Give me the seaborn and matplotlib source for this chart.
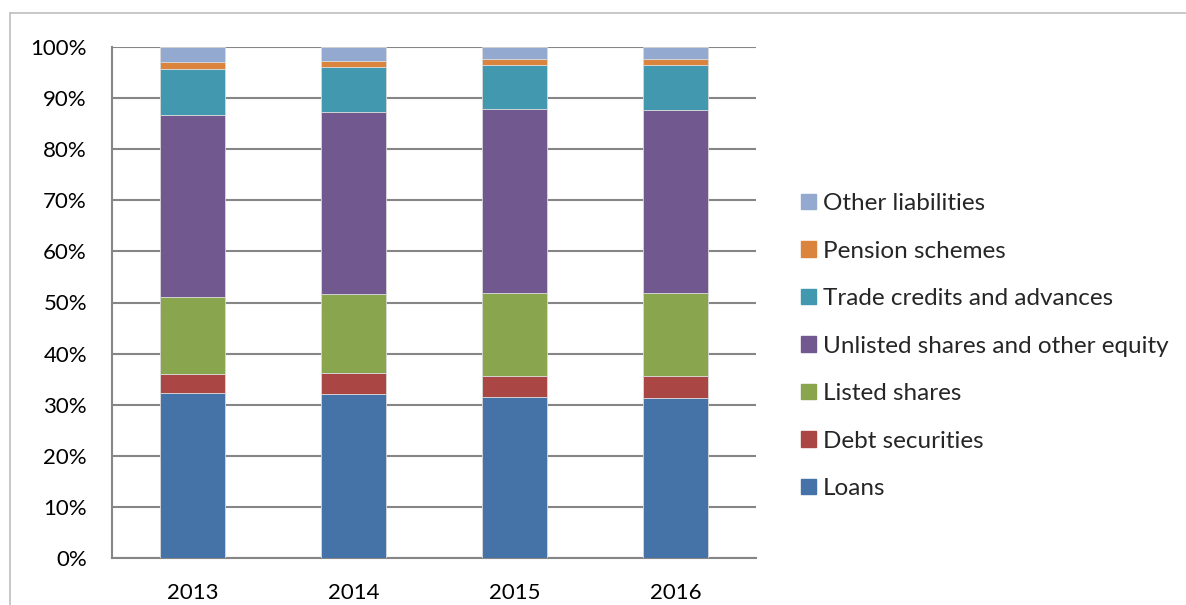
import matplotlib
matplotlib.use("Agg")
import matplotlib.pyplot as plt
import matplotlib.patches as mpatches
from matplotlib.lines import Line2D
import pandas as pd
import seaborn as sns

years = ["2013", "2014", "2015", "2016"]
series = ["Loans", "Debt securities", "Listed shares",
          "Unlisted shares and other equity", "Trade credits and advances",
          "Pension schemes", "Other liabilities"]
loans = [32.2, 32.0, 31.6, 31.4]
debt = [3.9, 4.3, 4.1, 4.2]
listed = [15.0, 15.3, 16.2, 16.3]
unlisted = [35.5, 35.7, 35.9, 35.7]
trade = [9.1, 8.7, 8.6, 8.8]
pension = [1.4, 1.3, 1.3, 1.3]
other = [2.9, 2.7, 2.3, 2.3]
colors = ["#4572A7", "#AA4643", "#89A54E", "#71588F", "#4198AF", "#DB843D", "#93A9CF"]

sns.set_style("white")
plt.rcParams["font.family"] = ["Lato", "DejaVu Sans"]

fig = plt.figure(figsize=(11.86, 6.05), dpi=100)
ax = fig.add_axes([0.0944, 0.0777, 0.543, 0.8446])

values = [loans, debt, listed, unlisted, trade, pension, other]
bottom = [0.0] * len(years)
for name, vals, col in zip(series, values, colors):
    df = pd.DataFrame({"year": years, "share": [v / 100 for v in vals]})
    sns.barplot(data=df, x="year", y="share", color=col, width=0.4,
                bottom=bottom, edgecolor="#D9D9D9", linewidth=0.6,
                saturation=1, ax=ax, zorder=3)
    bottom = [b + v / 100 for b, v in zip(bottom, vals)]

ax.set_xlim(-0.5, 3.5)
ax.set_ylim(0, 1)
ax.set_yticks([i / 10 for i in range(11)])
ax.set_yticklabels([f"{i * 10}%" for i in range(11)])
ax.set_xlabel("")
ax.set_ylabel("")
ax.grid(axis="y", color="#868686", linewidth=1.5, zorder=0)
ax.set_axisbelow(True)
ax.tick_params(axis="both", length=0, labelsize=16, colors="black")
ax.tick_params(axis="y", pad=18)
ax.tick_params(axis="x", pad=18)
for side in ["top", "right"]:
    ax.spines[side].set_visible(False)
for side in ["left", "bottom"]:
    ax.spines[side].set_color("#868686")
    ax.spines[side].set_linewidth(1.5)

handles = [mpatches.Patch(color=c, label=s) for s, c in zip(series, colors)][::-1]
fig.legend(handles=handles, loc="center left", bbox_to_anchor=(0.657, 0.428),
           frameon=False, fontsize=17.5, handlelength=0.62, handleheight=0.62,
           handletextpad=0.28, labelspacing=1.09)

# outer chart border
fig.add_artist(Line2D([0.0084, 1.0], [0.9785, 0.9785], color="#BFBFBF", linewidth=1.2))
fig.add_artist(Line2D([0.0084, 0.0084], [0.0, 0.9785], color="#BFBFBF", linewidth=1.2))

fig.savefig("out.png", dpi=100)
